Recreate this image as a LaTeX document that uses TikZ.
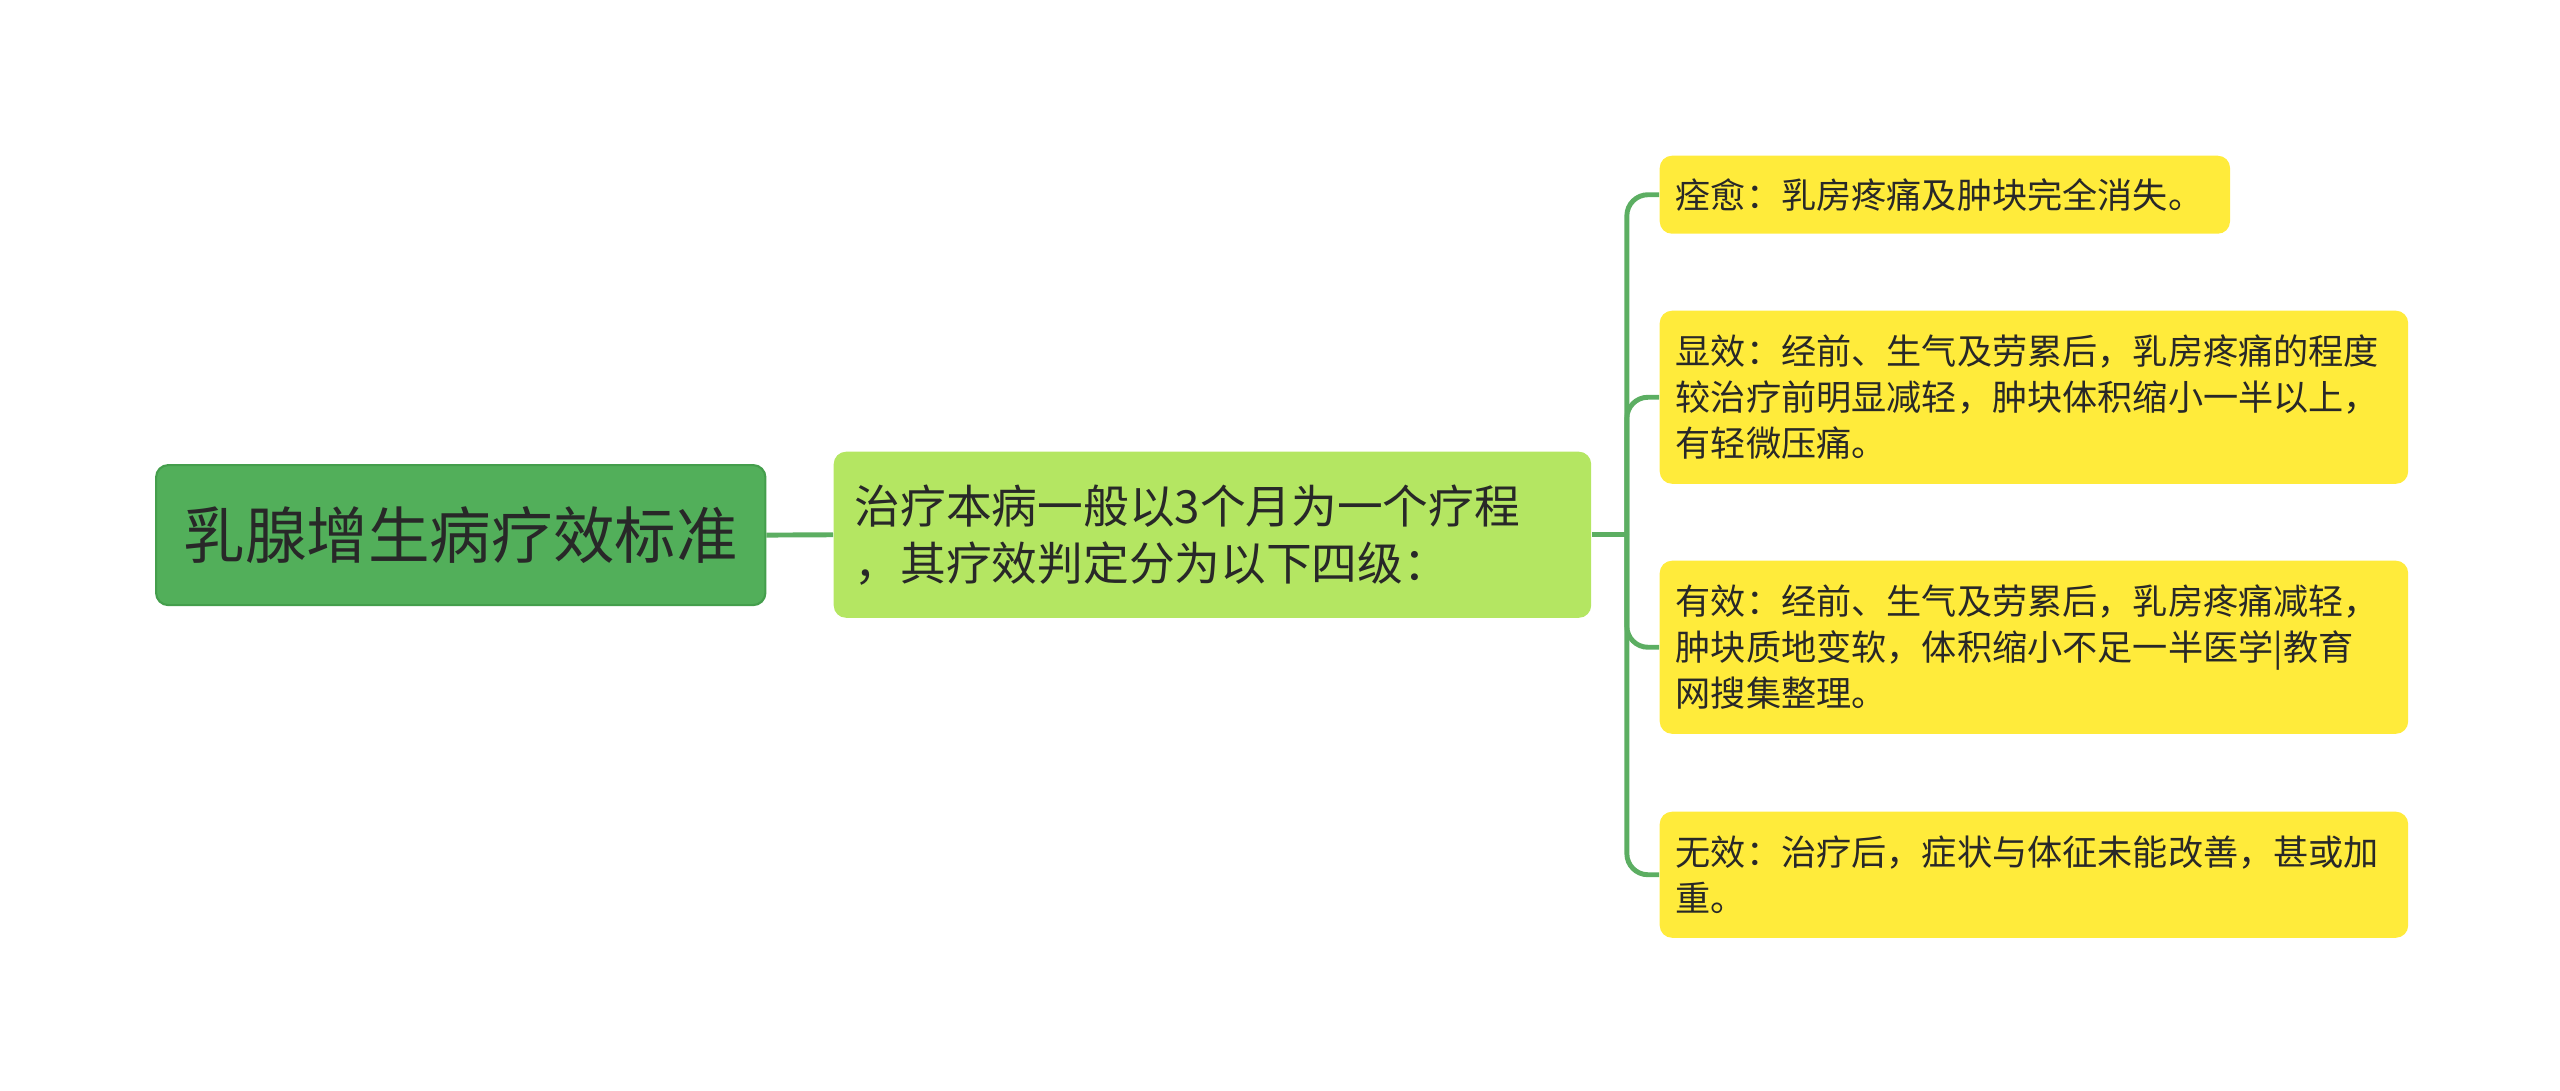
\documentclass[tikz,border=0pt]{standalone}
\usepackage{fontspec}
\setmainfont{Noto Sans CJK SC}
\usepackage{tikz}
\usetikzlibrary{calc}

\definecolor{rootgreen}{RGB}{82,175,90}
\definecolor{rootline}{RGB}{68,158,76}
\definecolor{midgreen}{RGB}{180,230,98}
\definecolor{leafyellow}{RGB}{255,235,59}
\definecolor{linkgreen}{RGB}{92,174,98}
\definecolor{inkgray}{RGB}{40,40,40}

\begin{document}
\begin{tikzpicture}[x=0.01cm, y=-0.01cm,
    box/.style={rectangle, rounded corners=3.5pt, anchor=north west, text=inkgray, inner ysep=0pt},
    rootbox/.style={box, fill=rootgreen, draw=rootline, line width=0.6pt,
        minimum width=6.09cm, minimum height=1.4cm, align=center,
        font=\fontsize{17.5}{21}\selectfont},
    midbox/.style={box, fill=midgreen, minimum width=7.57cm, minimum height=1.66cm,
        inner xsep=0.21cm, text width=7.15cm, align=left,
        font=\fontsize{13}{16.2}\selectfont},
    leafbox/.style={box, fill=leafyellow, inner xsep=0.16cm, align=left,
        font=\fontsize{10}{13}\selectfont},
    link/.style={linkgreen, line width=1.4pt},
  ]
    \useasboundingbox (0,0) rectangle (2560,1091);

    % Root and main branch
    \node[rootbox] (root) at (155,464) {乳腺增生病疗效标准};
    \node[midbox] (mid) at (833,451)
        {治疗本病一般以3个月为一个疗程\\，其疗效判定分为以下四级：};

    % The four grades
    \node[leafbox, minimum width=5.70cm, minimum height=0.78cm, text width=5.38cm] (cure) at (1659,155)
        {痊愈：乳房疼痛及肿块完全消失。};
    \node[leafbox, minimum width=7.48cm, minimum height=1.73cm, text width=7.16cm] (marked) at (1659,310)
        {显效：经前、生气及劳累后，乳房疼痛的程度\\较治疗前明显减轻，肿块体积缩小一半以上，\\有轻微压痛。};
    \node[leafbox, minimum width=7.48cm, minimum height=1.73cm, text width=7.16cm] (effective) at (1659,560)
        {有效：经前、生气及劳累后，乳房疼痛减轻，\\肿块质地变软，体积缩小不足一半医学|教育\\网搜集整理。};
    \node[leafbox, minimum width=7.48cm, minimum height=1.26cm, text width=7.16cm] (none) at (1659,811)
        {无效：治疗后，症状与体征未能改善，甚或加\\重。};

    % Connectors
    \draw[link] (root.east) -- (mid.west);
    \coordinate (trunk) at ($(mid.east)+(35,0)$);
    \draw[link] (mid.east) -- (trunk);
    \foreach \leaf in {cure,marked,effective,none}
        \draw[link, rounded corners=6pt] (trunk) |- (\leaf.west);
\end{tikzpicture}
\end{document}
